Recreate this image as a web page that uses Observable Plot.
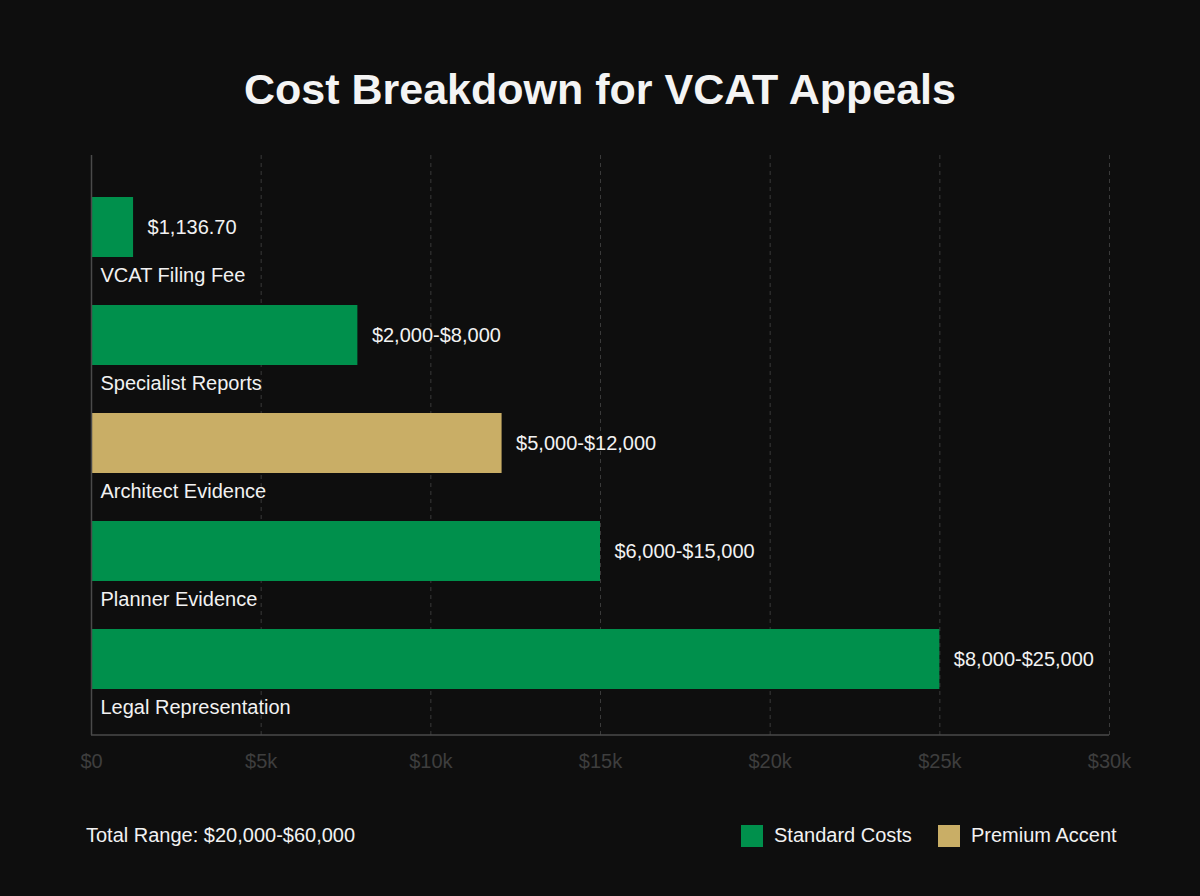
<!DOCTYPE html>
<html>
<head>
<meta charset="utf-8">
<script src="https://cdn.jsdelivr.net/npm/d3@7"></script>
<script src="https://cdn.jsdelivr.net/npm/@observablehq/plot@0.6"></script>
<style>
  html, body { margin: 0; padding: 0; background: #0e0e0e; }
  body { width: 1200px; height: 896px; overflow: hidden; font-family: "Liberation Sans", Arial, sans-serif; color: #f2f2f2; position: relative; }
  #title { height: 130px; box-sizing: border-box; padding-top: 62px; text-align: center; font-family: "Liberation Sans", Arial, sans-serif; font-weight: 700; font-size: 43px; line-height: 54px; color: #f4f4f4; }
  #chart svg { display: block; }
  #footer { position: absolute; top: 822px; left: 0; width: 1200px; height: 30px; font-size: 20px; }
  #total { position: absolute; left: 86px; top: 2px; }
  .leg { position: absolute; top: 2px; display: flex; align-items: center; }
  .sw { width: 22px; height: 22px; margin-right: 11px; }
</style>
</head>
<body>
<div id="title"><span>Cost Breakdown for VCAT Appeals</span></div>
<div id="chart"></div>
<div id="footer">
  <div id="total"></div>
  <div id="legend"></div>
</div>
<script>
// Data
const categories = ["VCAT Filing Fee", "Specialist Reports", "Architect Evidence", "Planner Evidence", "Legal Representation"];
const values = [1240, 7850, 12100, 15000, 25000];
const valueLabels = ["$1,136.70", "$2,000-$8,000", "$5,000-$12,000", "$6,000-$15,000", "$8,000-$25,000"];
const groups = ["Standard Costs", "Standard Costs", "Premium Accent", "Standard Costs", "Standard Costs"];
const tickValues = [0, 5000, 10000, 15000, 20000, 25000, 30000];
const tickLabels = ["$0", "$5k", "$10k", "$15k", "$20k", "$25k", "$30k"];
const legendItems = ["Standard Costs", "Premium Accent"];
const legendColors = ["#00904c", "#c9ae66"];
const totalText = "Total Range: $20,000-$60,000";

const rows = categories.map((c, i) => ({category: c, value: values[i], label: valueLabels[i], group: groups[i]}));

const FONT = "'Liberation Sans', Arial, sans-serif";
const chart = Plot.plot({
  width: 1200,
  height: 660,
  marginTop: 25,
  marginBottom: 55,
  marginLeft: 91,
  marginRight: 91,
  style: {background: "transparent", fontFamily: FONT, fontSize: "20px", color: "#f2f2f2"},
  x: {domain: [0, 30000], label: null},
  y: {type: "band", domain: categories, range: [66, 560], paddingInner: 0.447, paddingOuter: 0, axis: null},
  color: {domain: legendItems, range: legendColors},
  marks: [
    Plot.ruleX(tickValues.slice(1), {stroke: "#3a3a3a", strokeWidth: 1, strokeDasharray: "4,4"}),
    Plot.barX(rows, {x: "value", y: "category", fill: "group"}),
    Plot.text(rows, {x: "value", y: "category", text: "label", textAnchor: "start", dx: 14, fill: "#f2f2f2", fontSize: 20}),
    Plot.text(rows, {x: 0, y: "category", text: "category", textAnchor: "start", dx: 9, dy: 48, fill: "#f2f2f2", fontSize: 20}),
    Plot.ruleX([0], {stroke: "#4a4a4a", strokeWidth: 1.5}),
    Plot.axisX({ticks: tickValues, tickFormat: d => tickLabels[tickValues.indexOf(d)], tickSize: 0, tickPadding: 18, fill: "#3e3e3e", fontSize: 20, stroke: "none", label: null})
  ]
});
document.getElementById("chart").appendChild(chart);

// bottom axis line drawn using the chart's own x scale
const sx = chart.scale("x");
const svg = d3.select(chart);
svg.append("line")
  .attr("x1", sx.apply(0)).attr("x2", sx.apply(30000))
  .attr("y1", 660 - 55).attr("y2", 660 - 55)
  .attr("stroke", "#4a4a4a").attr("stroke-width", 1.5);

document.getElementById("total").textContent = totalText;
const legend = document.getElementById("legend");
const legX = [741, 938];
legendItems.forEach((name, i) => {
  const item = document.createElement("div");
  item.className = "leg";
  item.style.left = legX[i] + "px";
  item.innerHTML = `<div class="sw" style="background:${legendColors[i]}"></div><span>${name}</span>`;
  legend.appendChild(item);
});
</script>
</body>
</html>
